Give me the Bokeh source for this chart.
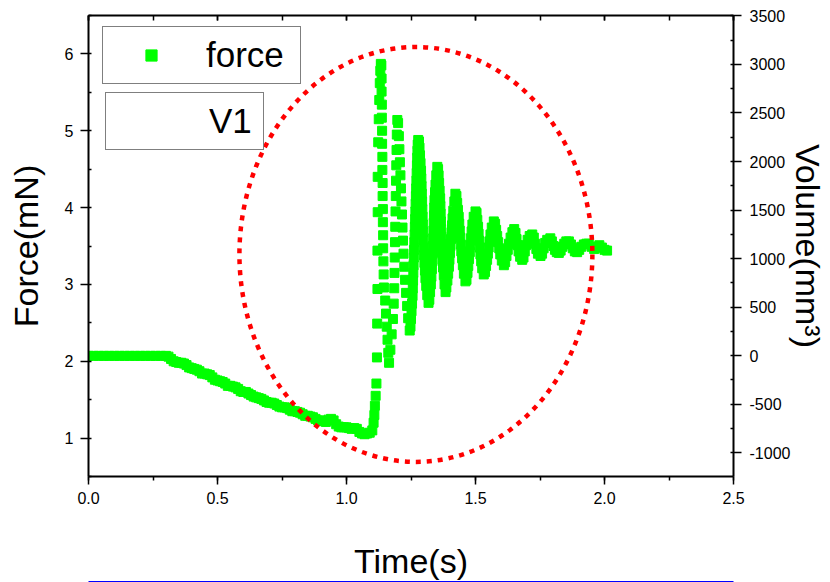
from bokeh.plotting import figure
from bokeh.models import (LinearAxis, Range1d, Legend, LegendItem, ColumnDataSource,
                          SingleIntervalTicker, NumeralTickFormatter, CustomJSTickFormatter)
from bokeh.embed import file_html
from bokeh.resources import INLINE

# ---------------- data ----------------
# flat start
time_flat = [0.00, 0.02, 0.04, 0.06, 0.08, 0.10, 0.12, 0.14, 0.16, 0.18, 0.20, 0.22, 0.24, 0.26, 0.28, 0.30]
force_flat = [2.07, 2.07, 2.07, 2.07, 2.07, 2.07, 2.07, 2.07, 2.07, 2.07, 2.07, 2.07, 2.07, 2.07, 2.07, 2.07]

# slow, step-wise decline
time_decline = [0.31, 0.32, 0.33, 0.34, 0.35, 0.36, 0.37, 0.38, 0.39, 0.40,
                0.41, 0.42, 0.43, 0.44, 0.45, 0.46, 0.47, 0.48, 0.49, 0.50,
                0.51, 0.52, 0.53, 0.54, 0.55, 0.56, 0.57, 0.58, 0.59, 0.60,
                0.61, 0.62, 0.63, 0.64, 0.65, 0.66, 0.67, 0.68, 0.69, 0.70,
                0.71, 0.72, 0.73, 0.74, 0.75, 0.76, 0.77, 0.78, 0.79, 0.80,
                0.81, 0.82, 0.83, 0.84, 0.85, 0.86, 0.87, 0.88, 0.89, 0.90,
                0.91, 0.92, 0.93, 0.94, 0.95, 0.96, 0.97, 0.98, 0.99, 1.00,
                1.01, 1.02, 1.03, 1.04, 1.05, 1.06, 1.07, 1.08, 1.09, 1.10,
                1.105, 1.108, 1.11]
force_decline = [2.06, 2.03, 2.00, 1.99, 1.98, 1.98, 1.97, 1.95, 1.92, 1.91,
                 1.90, 1.89, 1.87, 1.84, 1.84, 1.83, 1.82, 1.79, 1.76, 1.75,
                 1.74, 1.73, 1.71, 1.68, 1.68, 1.67, 1.66, 1.64, 1.61, 1.60,
                 1.60, 1.58, 1.56, 1.54, 1.53, 1.52, 1.51, 1.49, 1.47, 1.46,
                 1.46, 1.45, 1.43, 1.41, 1.40, 1.40, 1.39, 1.37, 1.35, 1.35,
                 1.34, 1.33, 1.31, 1.29, 1.29, 1.28, 1.27, 1.25, 1.23, 1.23,
                 1.22, 1.21, 1.24, 1.25, 1.23, 1.18, 1.15, 1.14, 1.14, 1.14,
                 1.13, 1.12, 1.13, 1.12, 1.08, 1.06, 1.05, 1.06, 1.07, 1.10,
                 1.20, 1.30, 1.42]

# sharp spike (rise and first fall)
time_spike = [1.113, 1.116, 1.118, 1.119, 1.120, 1.120, 1.121, 1.121, 1.123, 1.125, 1.127, 1.129, 1.131, 1.133,
              1.135, 1.136, 1.136, 1.137, 1.137, 1.138, 1.138, 1.139, 1.139, 1.140, 1.140, 1.141, 1.141, 1.142,
              1.142, 1.143, 1.144, 1.145, 1.150, 1.153, 1.156, 1.159, 1.162, 1.165]
force_spike = [1.55, 1.71, 2.05, 2.49, 2.94, 3.44, 3.94, 4.40, 4.85, 5.15, 5.40, 5.62, 5.78, 5.87,
               5.85, 5.68, 5.51, 5.34, 5.17, 5.00, 4.83, 4.66, 4.49, 4.32, 4.15, 3.98, 3.81, 3.64,
               3.47, 3.30, 3.13, 2.96, 2.79, 2.62, 2.45, 2.28, 2.11, 1.98]

# damped oscillation (one line per half cycle)
time_osc = [
    1.170, 1.175, 1.180, 1.183, 1.185, 1.186, 1.187, 1.188, 1.189, 1.190, 1.191, 1.192, 1.193, 1.194, 1.195, 1.197,
    1.200, 1.203, 1.205, 1.207, 1.209, 1.211, 1.213, 1.215, 1.217, 1.219, 1.221, 1.224, 1.227, 1.231, 1.235, 1.239, 1.245,
    1.248, 1.250, 1.252, 1.254, 1.256, 1.257, 1.258, 1.259, 1.260, 1.261, 1.262, 1.263, 1.264, 1.265, 1.266,
    1.267, 1.268, 1.269, 1.270, 1.271, 1.272, 1.273, 1.274, 1.275, 1.276, 1.278,
    1.281, 1.283, 1.285, 1.287, 1.289, 1.290, 1.291, 1.292, 1.293, 1.294, 1.295,
    1.296, 1.297, 1.298, 1.299, 1.300, 1.302, 1.304, 1.306, 1.309, 1.313, 1.318,
    1.321, 1.324, 1.327, 1.329, 1.331, 1.333, 1.334, 1.335, 1.336, 1.337, 1.338, 1.339, 1.340, 1.341, 1.343,
    1.345, 1.348, 1.352,
    1.355, 1.357, 1.359, 1.361, 1.363, 1.364, 1.365, 1.366, 1.367, 1.368, 1.369, 1.370, 1.372, 1.374, 1.377,
    1.380, 1.384,
    1.387, 1.391, 1.394, 1.397, 1.399, 1.401, 1.403, 1.405, 1.407, 1.409, 1.411, 1.414, 1.418, 1.422,
    1.426, 1.429, 1.432, 1.435, 1.437, 1.439, 1.441, 1.443, 1.445, 1.448, 1.451, 1.455, 1.461,
    1.465, 1.469, 1.472, 1.475, 1.478, 1.480, 1.482, 1.485, 1.488, 1.493, 1.500,
    1.504, 1.507, 1.510, 1.512, 1.514, 1.516, 1.519, 1.522, 1.526, 1.532,
    1.537, 1.541, 1.545, 1.548, 1.551, 1.554, 1.558, 1.563, 1.571,
    1.576, 1.580, 1.584, 1.588, 1.592, 1.596, 1.602, 1.610,
    1.615, 1.620, 1.625, 1.630, 1.636, 1.643, 1.650,
    1.655, 1.659, 1.663, 1.667, 1.673, 1.681,
    1.686, 1.691, 1.696, 1.702, 1.710, 1.720,
    1.726, 1.731, 1.736, 1.742, 1.752,
    1.758, 1.764, 1.770, 1.778, 1.790,
    1.796, 1.802, 1.808, 1.815, 1.823,
    1.830, 1.837, 1.844, 1.852, 1.862,
    1.870, 1.877, 1.885, 1.894,
    1.902, 1.910, 1.920, 1.930, 1.939,
    1.950, 1.960, 1.970, 1.980, 1.990, 2.000, 2.010,
]
force_osc = [
    2.15, 2.35, 2.55, 2.75, 2.95, 3.15, 3.35, 3.55, 3.75, 3.95, 4.15, 4.35, 4.55, 4.75, 4.95, 5.14,
    5.10, 4.93, 4.76, 4.59, 4.42, 4.25, 4.08, 3.91, 3.74, 3.57, 3.40, 3.23, 3.06, 2.89, 2.72, 2.56, 2.40,
    2.45, 2.55, 2.65, 2.75, 2.85, 2.95, 3.05, 3.15, 3.25, 3.35, 3.45, 3.55, 3.65, 3.75, 3.85,
    3.95, 4.05, 4.15, 4.25, 4.35, 4.45, 4.55, 4.65, 4.74, 4.82, 4.88,
    4.86, 4.78, 4.68, 4.58, 4.48, 4.38, 4.28, 4.18, 4.08, 3.98, 3.88,
    3.78, 3.68, 3.58, 3.48, 3.38, 3.28, 3.18, 3.08, 2.98, 2.86, 2.76,
    2.80, 2.90, 3.00, 3.10, 3.20, 3.30, 3.40, 3.50, 3.60, 3.70, 3.80, 3.90, 4.00, 4.10, 4.20,
    4.30, 4.42, 4.53,
    4.50, 4.42, 4.32, 4.22, 4.12, 4.02, 3.92, 3.82, 3.72, 3.62, 3.52, 3.42, 3.32, 3.22, 3.12,
    3.00, 2.90,
    2.96, 3.05, 3.14, 3.23, 3.32, 3.41, 3.50, 3.59, 3.68, 3.77, 3.86, 3.96, 4.08, 4.18,
    4.15, 4.06, 3.97, 3.88, 3.79, 3.70, 3.61, 3.52, 3.43, 3.34, 3.25, 3.14, 3.04,
    3.06, 3.15, 3.24, 3.33, 3.42, 3.51, 3.60, 3.69, 3.78, 3.88, 3.95,
    3.93, 3.84, 3.75, 3.66, 3.57, 3.48, 3.39, 3.30, 3.21, 3.13,
    3.16, 3.24, 3.32, 3.40, 3.48, 3.56, 3.65, 3.74, 3.82,
    3.79, 3.71, 3.63, 3.55, 3.47, 3.39, 3.31, 3.25,
    3.29, 3.37, 3.45, 3.53, 3.61, 3.68, 3.72,
    3.67, 3.59, 3.51, 3.43, 3.36, 3.32,
    3.35, 3.43, 3.51, 3.58, 3.63, 3.65,
    3.61, 3.53, 3.46, 3.40, 3.37,
    3.40, 3.47, 3.54, 3.58, 3.60,
    3.56, 3.50, 3.45, 3.42, 3.41,
    3.44, 3.49, 3.53, 3.56, 3.56,
    3.52, 3.47, 3.43, 3.42,
    3.45, 3.49, 3.52, 3.53, 3.53,
    3.49, 3.46, 3.48, 3.51, 3.48, 3.45, 3.44,
]

# V1 series (right axis) has no visible points in the reference
v1_time = []
v1_volume = []

# dotted highlight ellipse (centre and full width/height in data units)
ellipse_x = [1.269]
ellipse_y = [3.39]
ellipse_w = [1.368]
ellipse_h = [5.40]

x_range = (0.0, 2.5)
force_range = (0.5, 6.5)
volume_range = (-1247, 3505)

FONT = "Liberation Sans"
GREEN = "#00FF00"

src = ColumnDataSource(dict(
    t=time_flat + time_decline + time_spike + time_osc,
    f=force_flat + force_decline + force_spike + force_osc,
))

p = figure(width=830, height=582, output_backend="svg", toolbar_location=None,
           x_range=Range1d(*x_range), y_range=Range1d(*force_range),
           min_border_left=88, min_border_right=97, min_border_top=15, min_border_bottom=106,
           background_fill_color="white", border_fill_color="white")
p.outline_line_color = None
p.xgrid.visible = False
p.ygrid.visible = False
p.extra_y_ranges = {"vol": Range1d(*volume_range)}

def style_axis(ax):
    ax.axis_line_color = "black"
    ax.axis_line_width = 2
    ax.major_tick_line_color = "black"
    ax.major_tick_line_width = 1.5
    ax.minor_tick_line_color = "black"
    ax.minor_tick_line_width = 1.5
    ax.major_label_text_font = FONT
    ax.major_label_text_font_size = "16px"
    ax.major_label_text_color = "black"
    ax.axis_label_text_font = FONT
    ax.axis_label_text_font_size = "34px"
    ax.axis_label_text_font_style = "normal"
    ax.axis_label_text_color = "black"

# bottom axis
xb = p.xaxis[0]
style_axis(xb)
xb.ticker = SingleIntervalTicker(interval=0.5, num_minor_ticks=2)
xb.formatter = NumeralTickFormatter(format="0.0")
xb.major_tick_out = 8
xb.major_tick_in = 0
xb.minor_tick_out = 4
xb.minor_tick_in = 0
xb.major_label_standoff = 7
xb.axis_label = "Time(s)"
xb.axis_label_standoff = 35

# thin blue rule below the bottom axis (no ticks, no labels)
xblue = LinearAxis(ticker=SingleIntervalTicker(interval=0.5, num_minor_ticks=0),
                   formatter=CustomJSTickFormatter(code="return ''"))
xblue.axis_line_color = "#0000FF"
xblue.axis_line_width = 3
xblue.major_tick_line_color = None
xblue.minor_tick_line_color = None
xblue.major_tick_in = 0
xblue.major_tick_out = 0
xblue.minor_tick_in = 0
xblue.minor_tick_out = 0
xblue.major_label_text_font_size = "1px"
xblue.major_label_standoff = 0
p.add_layout(xblue, "below")

# left axis
yl = p.yaxis[0]
style_axis(yl)
yl.ticker = SingleIntervalTicker(interval=1, num_minor_ticks=2)
yl.major_tick_out = 8
yl.major_tick_in = 0
yl.minor_tick_out = 0
yl.minor_tick_in = 3
yl.major_label_standoff = 7
yl.axis_label = "Force(mN)"
yl.axis_label_standoff = 17

# top axis (ticks only, no labels)
xt = LinearAxis(ticker=SingleIntervalTicker(interval=0.5, num_minor_ticks=2),
                formatter=CustomJSTickFormatter(code="return ''"))
style_axis(xt)
xt.major_label_text_font_size = "1px"
xt.major_label_standoff = 0
xt.major_tick_out = 0
xt.major_tick_in = 5
xt.minor_tick_out = 0
xt.minor_tick_in = 5
p.add_layout(xt, "above")

# right axis (volume)
yr = LinearAxis(y_range_name="vol", ticker=SingleIntervalTicker(interval=500, num_minor_ticks=2),
                formatter=NumeralTickFormatter(format="0"))
style_axis(yr)
yr.major_tick_out = 8
yr.major_tick_in = 0
yr.minor_tick_out = 0
yr.minor_tick_in = 3
yr.major_label_standoff = 8
yr.axis_label = "Volume(mm³)"
yr.axis_label_standoff = -4
p.add_layout(yr, "right")

# data
r_force = p.scatter("t", "f", source=src, marker="square", size=9,
                    fill_color=GREEN, line_color=GREEN)
r_v1 = p.scatter(x=v1_time, y=v1_volume, y_range_name="vol", marker="square", size=9,
                 fill_alpha=0, line_alpha=0)

p.ellipse(x=ellipse_x, y=ellipse_y, width=ellipse_w, height=ellipse_h,
          fill_color=None, line_color="#FF0000", line_width=4.5, line_dash="5 6")

def make_legend(label, renderer, loc, lw):
    lg = Legend(items=[LegendItem(label=label, renderers=[renderer])], location=loc)
    lg.border_line_color = "black"
    lg.border_line_width = 1.2
    lg.background_fill_color = "white"
    lg.background_fill_alpha = 1.0
    lg.padding = 8
    lg.margin = 0
    lg.spacing = 0
    lg.glyph_width = 80
    lg.glyph_height = 28
    lg.label_standoff = 15
    lg.label_width = lw
    lg.label_height = 37
    lg.label_text_font = FONT
    lg.label_text_font_size = "35px"
    lg.label_text_color = "black"
    return lg

p.add_layout(make_legend("force", r_force, (14, 392), 86))
p.add_layout(make_legend("V1", r_v1, (17, 326), 46))

open("out.html", "w").write(file_html(p, INLINE))
